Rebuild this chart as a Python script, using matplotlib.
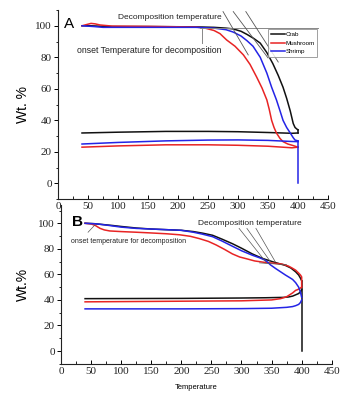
import matplotlib
matplotlib.use("Agg")
import matplotlib.pyplot as plt
from matplotlib.ticker import MultipleLocator

# ---- Panel A data (heating branch, then return branch) ----
a_crab_t = [40, 55, 80, 150, 230, 260, 280, 292, 305, 315, 326, 337, 348, 358, 367, 375,
            381, 387, 392, 395, 398, 400]
a_crab_w = [100, 100, 99.5, 99.5, 99.3, 99, 98.5, 98, 96.5, 94.5, 92, 89, 83, 76, 68.5, 61,
            54, 46, 38, 35.5, 34.5, 34]
a_crab_ct = [400, 390, 350, 300, 250, 180, 100, 40]
a_crab_cw = [32, 31.8, 32.3, 32.8, 33, 33, 32.5, 32]

a_mush_t = [40, 48, 55, 62, 70, 90, 150, 230, 245, 260, 270, 281, 295, 309, 320, 331, 340,
            348, 352, 356, 360, 364, 370, 375, 383, 392, 400]
a_mush_w = [100, 100.8, 101.5, 101.2, 100.5, 99.8, 99.6, 99.2, 98.5, 97, 95, 91, 87, 81.5,
            75.5, 67.5, 60.5, 53, 47, 40, 35.5, 32, 28.5, 26.5, 25, 24, 23]
a_mush_ct = [400, 390, 350, 300, 250, 180, 100, 40]
a_mush_cw = [23, 22.6, 23.6, 24.2, 24.5, 24.5, 23.8, 23]

a_shr_t = [40, 60, 75, 150, 230, 260, 280, 292, 305, 315, 325, 337, 348, 356, 364, 370, 375,
           381, 387, 392, 395, 400]
a_shr_w = [100, 99.5, 99, 99, 99, 98.5, 97.5, 96, 93.5, 90.5, 87, 80, 70, 61, 53, 46, 40,
           35.5, 32, 29, 27.5, 27]
a_shr_ct = [400, 390, 350, 300, 250, 180, 100, 40]
a_shr_cw = [26.5, 26.6, 27.3, 27.6, 27.5, 27, 26, 25]
a_shr_drop_t = [400, 400]
a_shr_drop_w = [27, 0]

# ---- Panel B data ----
b_crab_t = [40, 55, 70, 85, 100, 125, 150, 175, 200, 220, 235, 252, 268, 285, 300, 318, 335,
            351, 362, 373, 382, 390, 395, 398, 400]
b_crab_w = [100, 99.7, 99, 98.3, 97.5, 96.3, 95.5, 95, 94.5, 93.5, 92.3, 90.6, 87.5, 84, 80.5,
            76, 72.5, 70, 68.5, 67, 65, 62, 59.5, 57, 55]
b_crab_ct = [400, 398, 395, 390, 385, 378, 370, 340, 300, 200, 40]
b_crab_cw = [48, 46.5, 45, 44, 43, 42.3, 42, 41.7, 41.5, 41.2, 41]
b_crab_drop_t = [400, 400]
b_crab_drop_w = [55, 0]

b_mush_t = [40, 50, 57, 65, 72, 81, 100, 125, 147, 175, 197, 215, 230, 245, 258, 272, 285,
            297, 307, 322, 340, 355, 368, 378, 384, 390, 395, 398, 400, 400]
b_mush_w = [100, 99.5, 98.3, 96, 94.8, 94, 93.5, 93, 92.5, 91.8, 91, 89.8, 88, 85.8, 83, 79.5,
            76, 73.6, 72.4, 70.5, 69.3, 68.7, 68, 66.5, 65, 63.3, 61, 59.5, 58, 50]
b_mush_ct = [400, 397, 393, 390, 385, 380, 375, 365, 350, 300, 200, 40]
b_mush_cw = [50, 49, 48, 47.5, 45.5, 44, 42.5, 41, 40, 39.3, 39, 38.5]

b_shr_t = [40, 60, 80, 100, 125, 150, 175, 200, 220, 235, 252, 268, 285, 300, 318, 330, 340,
           348, 357, 365, 373, 380, 385, 390, 395, 398, 400]
b_shr_w = [100, 99.5, 98.3, 97, 96, 95.5, 95, 94.5, 93, 91.5, 89.5, 86, 82, 78.5, 75, 73, 71,
           67.5, 64.5, 62, 59.5, 57.5, 56, 53.5, 50, 46, 42]
b_shr_ct = [400, 398, 395, 390, 385, 375, 350, 300, 200, 40]
b_shr_cw = [40, 38, 36.5, 35.5, 34.8, 34.2, 33.5, 33.2, 33, 33]

C_CRAB = "#111111"
C_MUSH = "#e82424"
C_SHR = "#2424e6"
SANS = "Liberation Sans"
SERIF = "Liberation Serif"

fig = plt.figure(figsize=(3.53, 4.0), dpi=100)
ax_a = fig.add_axes([0.1643, 0.502, 0.765, 0.473])
ax_b = fig.add_axes([0.1728, 0.0905, 0.767, 0.396])
ax_b.patch.set_visible(False)


def style_axes(ax, ylim):
    ax.set_xlim(0, 450)
    ax.set_ylim(*ylim)
    for s in ("top", "right"):
        ax.spines[s].set_visible(False)
    for s in ("left", "bottom"):
        ax.spines[s].set_linewidth(0.8)
        ax.spines[s].set_color("#222222")
    ax.xaxis.set_major_locator(MultipleLocator(50))
    ax.xaxis.set_minor_locator(MultipleLocator(25))
    ax.yaxis.set_major_locator(MultipleLocator(20))
    ax.yaxis.set_minor_locator(MultipleLocator(10))
    ax.set_yticks([0, 20, 40, 60, 80, 100])
    ax.tick_params(axis="x", which="major", direction="in", length=3, width=0.7, pad=2)
    ax.tick_params(axis="x", which="minor", direction="in", length=2, width=0.6)
    ax.tick_params(axis="y", which="major", direction="out", length=3, width=0.7, pad=1.5)
    ax.tick_params(axis="y", which="minor", direction="out", length=1.5, width=0.6)
    for lab in ax.get_xticklabels() + ax.get_yticklabels():
        lab.set_fontfamily(SERIF)
        lab.set_fontsize(8)
        lab.set_color("#222222")


# ---- Panel A ----
lw = 1.1
ax_a.plot(a_crab_t, a_crab_w, color=C_CRAB, lw=lw, label="Crab")
ax_a.plot(a_crab_ct, a_crab_cw, color=C_CRAB, lw=lw)
ax_a.plot([a_crab_t[-1], a_crab_ct[0]], [a_crab_w[-1], a_crab_cw[0]], color=C_CRAB, lw=lw)
ax_a.plot(a_mush_t, a_mush_w, color=C_MUSH, lw=lw, label="Mushroom")
ax_a.plot(a_mush_ct, a_mush_cw, color=C_MUSH, lw=lw)
ax_a.plot(a_shr_t, a_shr_w, color=C_SHR, lw=lw, label="Shrimp")
ax_a.plot(a_shr_ct, a_shr_cw, color=C_SHR, lw=lw)
ax_a.plot(a_shr_drop_t, a_shr_drop_w, color=C_SHR, lw=lw)
style_axes(ax_a, (-10, 110))

# guide lines
g = "#555555"
ax_a.plot([237, 433], [98.5, 98.5], color="#888888", lw=0.7)
ax_a.plot([240, 240], [98.5, 89], color="#888888", lw=0.7)
ax_a.plot([275, 317], [109, 81.5], color=g, lw=0.6, clip_on=False)
ax_a.plot([292, 350], [109, 79.6], color=g, lw=0.6, clip_on=False)
ax_a.plot([313, 367], [109, 77], color=g, lw=0.6, clip_on=False)

ax_a.text(100, 105, "Decomposition temperature", family=SANS, fontsize=6,
          va="center", ha="left", color="#222222")
ax_a.text(32, 84.6, "onset Temperature for decomposition", family=SANS, fontsize=6.3,
          va="center", ha="left", color="#222222")
ax_a.text(10, 101, "A", family=SANS, fontsize=11, va="center", ha="left")
ax_a.set_ylabel("Wt. %", family=SANS, fontsize=10, labelpad=4)

leg = ax_a.legend(loc="upper left", bbox_to_anchor=(0.778, 0.899),
                  handlelength=2.2, handletextpad=0.1, borderpad=0.45,
                  labelspacing=0.5, borderaxespad=0, fancybox=False,
                  prop={"family": SANS, "size": 4.5})
leg.get_frame().set_edgecolor("#888888")
leg.get_frame().set_linewidth(0.7)

# ---- Panel B ----
ax_b.plot(b_crab_t, b_crab_w, color=C_CRAB, lw=lw)
ax_b.plot(b_crab_ct, b_crab_cw, color=C_CRAB, lw=lw)
ax_b.plot(b_crab_drop_t, b_crab_drop_w, color=C_CRAB, lw=lw)
ax_b.plot(b_mush_t, b_mush_w, color=C_MUSH, lw=lw)
ax_b.plot(b_mush_ct, b_mush_cw, color=C_MUSH, lw=lw)
ax_b.plot(b_shr_t, b_shr_w, color=C_SHR, lw=lw)
ax_b.plot(b_shr_ct, b_shr_cw, color=C_SHR, lw=lw)
style_axes(ax_b, (-10, 114))

ax_b.plot([296, 340], [96, 70], color=g, lw=0.5)
ax_b.plot([309, 348], [96, 70], color=g, lw=0.5)
ax_b.plot([324, 356], [96, 70], color=g, lw=0.5)
ax_b.plot([330, 375], [69, 67.5], color=g, lw=0.5)
ax_b.plot([45, 56], [93, 98.5], color=g, lw=0.5)

ax_b.text(228, 100, "Decomposition temperature", family=SANS, fontsize=6,
          va="center", ha="left", color="#222222")
ax_b.text(16.5, 86, "onset temperature for decomposition", family=SANS, fontsize=5,
          va="center", ha="left", color="#222222")
ax_b.text(18, 101, "B", family=SANS, fontsize=11, fontweight="bold", va="center", ha="left")
ax_b.set_ylabel("Wt.%", family=SANS, fontsize=10, labelpad=6)
ax_b.set_xlabel("Temperature", family=SANS, fontsize=5.5, labelpad=6)

fig.savefig("out.png", dpi=100)
